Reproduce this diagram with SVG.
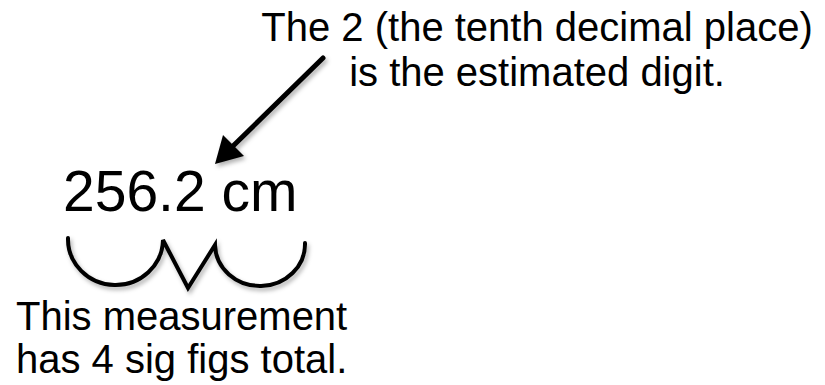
<svg xmlns="http://www.w3.org/2000/svg" width="825" height="385" viewBox="0 0 825 385">
<style>
text{font-family:"Liberation Sans",Arial,Helvetica,sans-serif;fill:#000}
.stroke{fill:none;stroke:#000;stroke-width:4;stroke-linecap:round;stroke-linejoin:miter}
</style>
<defs>
<filter id="sh" x="-20%" y="-20%" width="140%" height="140%">
<feDropShadow dx="2" dy="3" stdDeviation="2" flood-color="#000" flood-opacity="0.3"/>
</filter>
</defs>
<rect width="825" height="385" fill="#fff"/>
<g id="note">
<text x="537" y="41" font-size="40" text-anchor="middle">The 2 (the tenth decimal place)</text>
<text x="537" y="86" font-size="40" text-anchor="middle">is the estimated digit.</text>
</g>
<g id="measurement">
<text x="63" y="211" font-size="57">256.2 cm</text>
</g>
<g id="caption">
<text x="16" y="330" font-size="40">This measurement</text>
<text x="16" y="373" font-size="40">has 4 sig figs total.</text>
</g>
<g id="connectors">
<g id="arrow" filter="url(#sh)">
<line x1="323" y1="58" x2="232" y2="147" stroke="#000" stroke-width="5" stroke-linecap="round"/>
<polygon points="215,164 223,135 244,156" fill="#000"/>
</g>
<g id="brace" filter="url(#sh)">
<path class="stroke" d="M68,238 A47.5,46 0 0 0 163,240 L188,288 L215,245 A45,42 0 0 0 305,243"/>
</g>
</g>
</svg>
